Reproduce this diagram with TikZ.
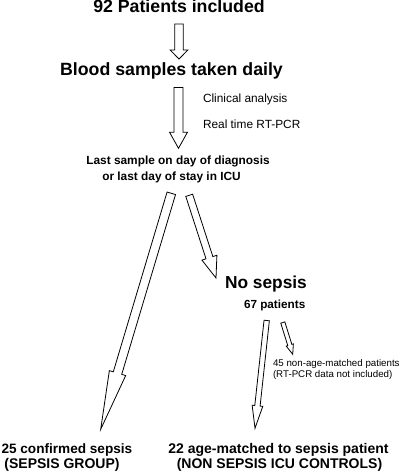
\documentclass[tikz,border=0pt]{standalone}
\usepackage{fontspec}
\setmainfont{Liberation Sans}
\usetikzlibrary{calc}
\tikzset{
  barrow/.style={draw=black, fill=white, line width=0.6pt, line join=miter},
  txt/.style={inner sep=0pt, outer sep=0pt},
}
\newcommand\blockarrow[5]{%
  \coordinate (#1-h) at ($(#2)!#5!(#1)$);
  \draw[barrow] ($(#1)!#3!90:(#2)$) -- ($(#1-h)!#3!90:(#2)$) -- ($(#1-h)!#4!90:(#2)$) -- (#2)
    -- ($(#1-h)!#4!-90:(#2)$) -- ($(#1-h)!#3!-90:(#2)$) -- ($(#1)!#3!-90:(#2)$) -- cycle;
}
\newcommand\fs[1]{\fontsize{#1}{#1}\selectfont}
\begin{document}
\begin{tikzpicture}[x=0.75pt,y=-0.75pt]
\useasboundingbox (0,0) rectangle (400,474);
% texts
\node[txt, anchor=base, font=\fs{13.3}\bfseries] (t92) at (179,12.5) {92 Patients included};
\node[txt, anchor=base, font=\fs{13.3}\bfseries] (blood) at (171.5,76) {Blood samples taken daily};
\node[txt, anchor=base west, font=\fs{8.9}] (clin) at (203,103) {Clinical analysis};
\node[txt, anchor=base west, font=\fs{8.9}] (rt) at (203,129) {Real time RT-PCR};
\node[txt, anchor=base, font=\fs{8.9}\bfseries] (last1) at (178,165) {Last sample on day of diagnosis};
\node[txt, anchor=base, font=\fs{8.9}\bfseries] (last2) at (171.5,180.5) {or last day of stay in ICU};
\node[txt, anchor=base west, font=\fs{13}\bfseries] (nos) at (225,288) {No sepsis};
\node[txt, anchor=base west, font=\fs{8.8}\bfseries] (p67) at (244,308) {67 patients};
\node[txt, anchor=base west, font=\fs{7.3}] (n45) at (273,366) {45 non-age-matched patients};
\node[txt, anchor=base west, font=\fs{7.3}] (rtp) at (273,377) {(RT-PCR data not included)};
\node[txt, anchor=base west, font=\fs{10.2}\bfseries] (s25) at (1.5,453) {25 confirmed sepsis};
\node[txt, anchor=base, font=\fs{10.5}\bfseries] (sg) at (62,468) {(SEPSIS GROUP)};
\node[txt, anchor=base, font=\fs{10.5}\bfseries] (a22) at (278.5,453) {22 age-matched to sepsis patient};
\node[txt, anchor=base, font=\fs{10.5}\bfseries] (nsc) at (279.5,468) {(NON SEPSIS ICU CONTROLS)};
% arrow end points
\coordinate (a1s) at (179,24);   \coordinate (a1e) at (179,59);
\coordinate (a2s) at (178.5,87.5); \coordinate (a2e) at (178.5,148.3);
\coordinate (a3s) at (171.3,193.3); \coordinate (a3e) at (100.7,429.3);
\coordinate (a4s) at (189.2,195.3); \coordinate (a4e) at (216,278);
\coordinate (a5s) at (266.7,320.5); \coordinate (a5e) at (255,428.3);
\coordinate (a6s) at (282.8,322.5); \coordinate (a6e) at (292.7,354.3);
% arrows
\blockarrow{a1s}{a1e}{3.2pt}{6.7pt}{6.8pt}
\blockarrow{a2s}{a2e}{3.4pt}{6.7pt}{12pt}
\blockarrow{a3s}{a3e}{3.3pt}{6.4pt}{44pt}
\blockarrow{a4s}{a4e}{2.7pt}{5.9pt}{16pt}
\blockarrow{a5s}{a5e}{2.0pt}{4.0pt}{17pt}
\blockarrow{a6s}{a6e}{1.6pt}{2.8pt}{7.3pt}
\end{tikzpicture}
\end{document}
